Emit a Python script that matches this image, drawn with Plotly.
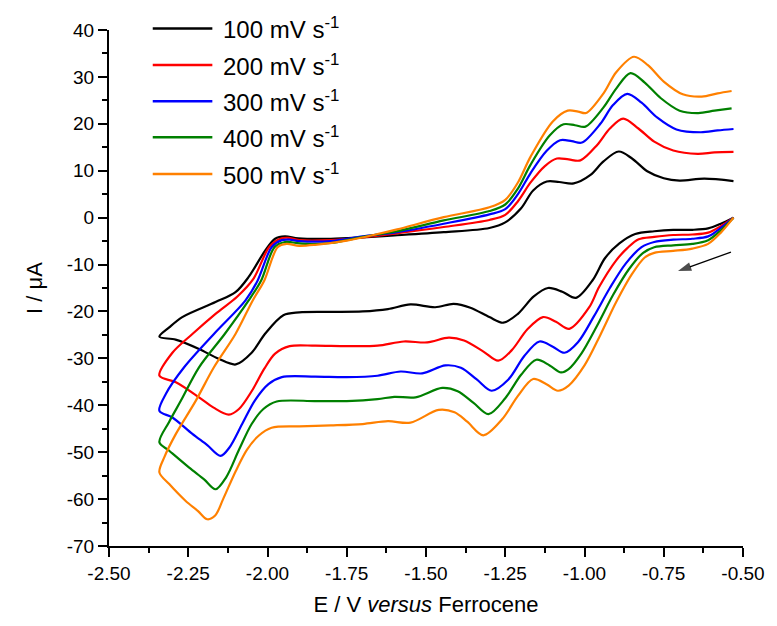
import plotly.graph_objects as go

# ---------------- data ----------------
series_labels = ["100 mV s<sup>-1</sup>", "200 mV s<sup>-1</sup>", "300 mV s<sup>-1</sup>",
                 "400 mV s<sup>-1</sup>", "500 mV s<sup>-1</sup>"]
series_colors = ["#000000", "#FF0000", "#0000FF", "#008000", "#FF8000"]

# 100 mV/s : cathodic branch (from -0.53 V) then anodic branch back
e_100 = [-0.53, -0.57, -0.61, -0.66, -0.72, -0.78, -0.84, -0.89, -0.935, -0.975, -1.027, -1.07, -1.115, -1.16,
         -1.21, -1.256, -1.30, -1.36, -1.413, -1.471, -1.549, -1.62, -1.70, -1.80, -1.90, -1.95, -2.007, -2.05,
         -2.10, -2.154, -2.216, -2.29, -2.341,
         -2.31, -2.269, -2.164, -2.101, -2.060, -2.007, -1.976, -1.945, -1.903, -1.80, -1.70, -1.60, -1.444,
         -1.30, -1.25, -1.20, -1.162, -1.119, -1.08, -1.034, -0.981, -0.94, -0.892, -0.85, -0.802, -0.75, -0.70,
         -0.622, -0.53]
i_100 = [0.0, -1.3, -2.3, -2.6, -2.6, -2.9, -3.5, -5.5, -8.6, -13.4, -17.1, -15.8, -15.0, -16.8,
         -20.5, -22.4, -21.2, -19.2, -18.4, -19.1, -18.5, -19.5, -20.0, -20.1, -20.2, -20.8, -24.7, -28.8,
         -31.3, -30.1, -28.0, -26.0, -25.4,
         -23.4, -21.2, -18.0, -15.9, -12.7, -7.0, -4.5, -4.0, -4.4, -4.5, -4.2, -3.8, -3.1,
         -2.2, -1.0, 2.0, 5.8, 7.7, 7.6, 7.3, 9.1, 12.0, 14.1, 12.6, 9.9, 8.4, 7.9,
         8.3, 7.8]

e_200 = [-0.53, -0.57, -0.61, -0.66, -0.72, -0.78, -0.829, -0.865, -0.90, -0.954, -0.985, -1.048, -1.09, -1.131,
         -1.18, -1.23, -1.272, -1.32, -1.38, -1.428, -1.496, -1.57, -1.653, -1.75, -1.85, -1.93, -1.976, -2.01,
         -2.049, -2.09, -2.122, -2.17, -2.216, -2.289, -2.341,
         -2.30, -2.237, -2.164, -2.095, -2.044, -1.995, -1.960, -1.935, -1.90, -1.80, -1.70, -1.60, -1.444,
         -1.30, -1.25, -1.21, -1.17, -1.125, -1.087, -1.050, -1.013, -0.96, -0.92, -0.878, -0.83, -0.78, -0.72,
         -0.643, -0.59, -0.53]
i_200 = [0.0, -1.8, -3.2, -3.6, -3.7, -4.1, -4.6, -6.5, -9.1, -14.8, -19.1, -23.7, -22.2, -21.2,
         -23.8, -28.3, -30.5, -28.5, -26.2, -25.6, -26.6, -26.4, -27.3, -27.4, -27.3, -27.4, -29.0, -32.2,
         -36.9, -40.8, -42.0, -40.5, -38.3, -35.1, -33.7,
         -28.8, -24.8, -20.5, -16.8, -13.0, -6.3, -4.5, -4.3, -4.8, -4.8, -4.2, -3.4, -2.0,
         -0.5, 0.6, 3.5, 7.5, 11.0, 12.6, 12.4, 12.2, 15.5, 19.0, 21.1, 19.0, 16.2, 14.3,
         13.6, 13.9, 14.0]

e_300 = [-0.53, -0.57, -0.61, -0.66, -0.72, -0.78, -0.82, -0.87, -0.92, -0.97, -1.02, -1.063, -1.10, -1.142,
         -1.19, -1.24, -1.293, -1.34, -1.39, -1.439, -1.512, -1.58, -1.653, -1.75, -1.85, -1.955, -1.997, -2.04,
         -2.08, -2.12, -2.148, -2.19, -2.237, -2.30, -2.341,
         -2.32, -2.263, -2.169, -2.070, -2.031, -1.987, -1.955, -1.93, -1.90, -1.80, -1.70, -1.60, -1.444,
         -1.30, -1.25, -1.21, -1.17, -1.12, -1.077, -1.040, -1.008, -0.95, -0.91, -0.865, -0.82, -0.77, -0.71,
         -0.633, -0.58, -0.53]
i_300 = [0.0, -2.2, -4.0, -4.5, -4.7, -5.2, -6.3, -9.8, -15.0, -21.0, -26.5, -28.8, -27.5, -26.4,
         -29.5, -34.5, -36.9, -34.5, -32.0, -31.5, -33.2, -32.8, -33.7, -34.0, -33.9, -34.0, -35.5, -39.0,
         -44.0, -49.0, -50.8, -48.5, -46.1, -42.6, -41.2,
         -37.5, -31.9, -24.8, -17.7, -13.4, -6.3, -4.8, -4.7, -5.0, -5.0, -4.0, -3.2, -1.3,
         0.7, 1.8, 5.0, 9.5, 14.2, 16.5, 16.3, 16.0, 20.0, 24.0, 26.4, 24.5, 21.3, 18.8,
         18.2, 18.6, 18.9]

e_400 = [-0.53, -0.57, -0.61, -0.66, -0.72, -0.78, -0.815, -0.86, -0.91, -0.96, -1.01, -1.05, -1.074, -1.11,
         -1.152, -1.20, -1.25, -1.303, -1.35, -1.40, -1.449, -1.533, -1.60, -1.653, -1.75, -1.85, -1.971, -2.013,
         -2.05, -2.09, -2.13, -2.164, -2.20, -2.247, -2.31, -2.341,
         -2.31, -2.273, -2.216, -2.135, -2.060, -2.020, -1.978, -1.945, -1.92, -1.88, -1.80, -1.70, -1.60, -1.444,
         -1.30, -1.25, -1.21, -1.17, -1.11, -1.066, -1.030, -0.997, -0.94, -0.90, -0.855, -0.81, -0.76, -0.70,
         -0.641, -0.59, -0.536]
i_400 = [0.0, -2.7, -4.8, -5.6, -5.9, -6.3, -7.5, -11.0, -16.5, -23.0, -29.0, -32.3, -33.0, -31.5,
         -30.3, -33.5, -38.5, -41.9, -39.5, -37.0, -36.3, -38.3, -38.2, -38.7, -39.1, -39.1, -39.2, -40.8,
         -44.0, -49.5, -55.3, -57.9, -55.8, -53.3, -49.7, -47.9,
         -43.5, -39.0, -31.9, -24.8, -17.7, -13.4, -6.3, -5.2, -5.3, -5.6, -5.4, -4.1, -3.0, -0.6,
         1.4, 2.8, 6.2, 11.3, 17.5, 19.9, 19.7, 19.4, 23.5, 27.5, 30.8, 28.8, 25.5, 22.8,
         22.3, 22.8, 23.3]

e_500 = [-0.53, -0.57, -0.61, -0.66, -0.72, -0.78, -0.81, -0.85, -0.90, -0.95, -1.00, -1.05, -1.084, -1.12,
         -1.162, -1.21, -1.26, -1.319, -1.37, -1.41, -1.460, -1.549, -1.62, -1.70, -1.80, -1.90, -1.987, -2.028,
         -2.065, -2.10, -2.14, -2.165, -2.19, -2.22, -2.258, -2.31, -2.341,
         -2.325, -2.289, -2.226, -2.169, -2.101, -2.047, -2.010, -1.968, -1.94, -1.90, -1.85, -1.75, -1.653,
         -1.591, -1.444, -1.30, -1.25, -1.21, -1.17, -1.10, -1.053, -1.020, -0.995, -0.94, -0.90, -0.844, -0.80,
         -0.75, -0.69, -0.630, -0.58, -0.536]
i_500 = [0.0, -3.2, -5.6, -6.6, -7.1, -7.5, -8.5, -12.0, -18.0, -25.0, -31.5, -35.8, -36.9, -35.5,
         -34.4, -38.0, -43.0, -46.4, -43.5, -41.5, -41.0, -43.7, -43.4, -44.0, -44.3, -44.5, -44.8, -46.5,
         -49.5, -54.0, -60.0, -63.5, -64.3, -62.5, -60.4, -56.8, -54.3,
         -51.0, -46.1, -39.0, -31.9, -24.8, -17.7, -13.4, -6.3, -5.6, -6.0, -5.8, -4.9, -3.5,
         -2.5, 0.1, 2.2, 3.8, 7.5, 13.0, 20.5, 22.8, 22.6, 22.3, 26.5, 31.0, 34.3, 32.5,
         29.0, 26.3, 25.8, 26.5, 27.0]

series_e = [e_100, e_200, e_300, e_400, e_500]
series_i = [i_100, i_200, i_300, i_400, i_500]

x_ticks = [-2.50, -2.25, -2.00, -1.75, -1.50, -1.25, -1.00, -0.75, -0.50]
y_ticks = [-70, -60, -50, -40, -30, -20, -10, 0, 10, 20, 30, 40]

# scan direction arrow (tail -> head), in data units
arrow_tail = (-0.538, -7.35)
arrow_head = (-0.705, -11.4)

# ---------------- figure ----------------
FONT = "Liberation Sans, Arial, sans-serif"
fig = go.Figure()
for e, i, c, name in zip(series_e, series_i, series_colors, series_labels):
    fig.add_trace(go.Scatter(x=e, y=i, mode="lines", name=name, showlegend=False,
                             line=dict(color=c, width=2.2, shape="spline", smoothing=0.9)))

# manual legend (long line samples like the original)
leg_rows = [1.003, 0.932, 0.862, 0.792, 0.721]
for (ypos, c, name) in zip(leg_rows, series_colors, series_labels):
    fig.add_shape(type="line", xref="paper", yref="paper", x0=0.069, x1=0.163, y0=ypos, y1=ypos,
                  line=dict(color=c, width=2.5))
    fig.add_annotation(xref="paper", yref="paper", x=0.176, y=ypos, text=name, showarrow=False,
                       xanchor="left", yanchor="middle", font=dict(family=FONT, size=24, color="#000"))

# scan-direction arrow: a short line with an arrow marker at its head
fig.add_trace(go.Scatter(x=[arrow_tail[0], arrow_head[0]], y=[arrow_tail[1], arrow_head[1]],
                         mode="lines+markers", showlegend=False, hoverinfo="skip",
                         line=dict(color="#000", width=1.3),
                         marker=dict(symbol=["circle", "arrow"], size=[0, 14], angleref="previous",
                                     color="#000", line=dict(width=0))))

axis_common = dict(showline=True, linecolor="#000", linewidth=2, ticks="outside", ticklen=9,
                   tickwidth=2, tickcolor="#000", showgrid=False, zeroline=False, mirror=False,
                   tickfont=dict(family=FONT, size=19, color="#000"))
fig.update_xaxes(range=[-2.5, -0.5], tickvals=x_ticks, ticktext=[f"{v:.2f}" for v in x_ticks],
                 minor=dict(dtick=0.125, tick0=-2.5, ticks="outside", ticklen=5, tickwidth=2, tickcolor="#000"),
                 title=dict(text="E / V <i>versus</i> Ferrocene", font=dict(family=FONT, size=22, color="#000"),
                            standoff=14),
                 **axis_common)
fig.update_yaxes(range=[-70, 40], tickvals=y_ticks, ticktext=[f"{v:d}" for v in y_ticks],
                 minor=dict(dtick=5, tick0=-70, ticks="outside", ticklen=5, tickwidth=2, tickcolor="#000"),
                 title=dict(text="I / μA", font=dict(family=FONT, size=22, color="#000"), standoff=18),
                 **axis_common)
fig.update_layout(width=777, height=626, margin=dict(l=109, r=29, t=30, b=80),
                  plot_bgcolor="white", paper_bgcolor="white", showlegend=False)
fig.write_html("out.html")
